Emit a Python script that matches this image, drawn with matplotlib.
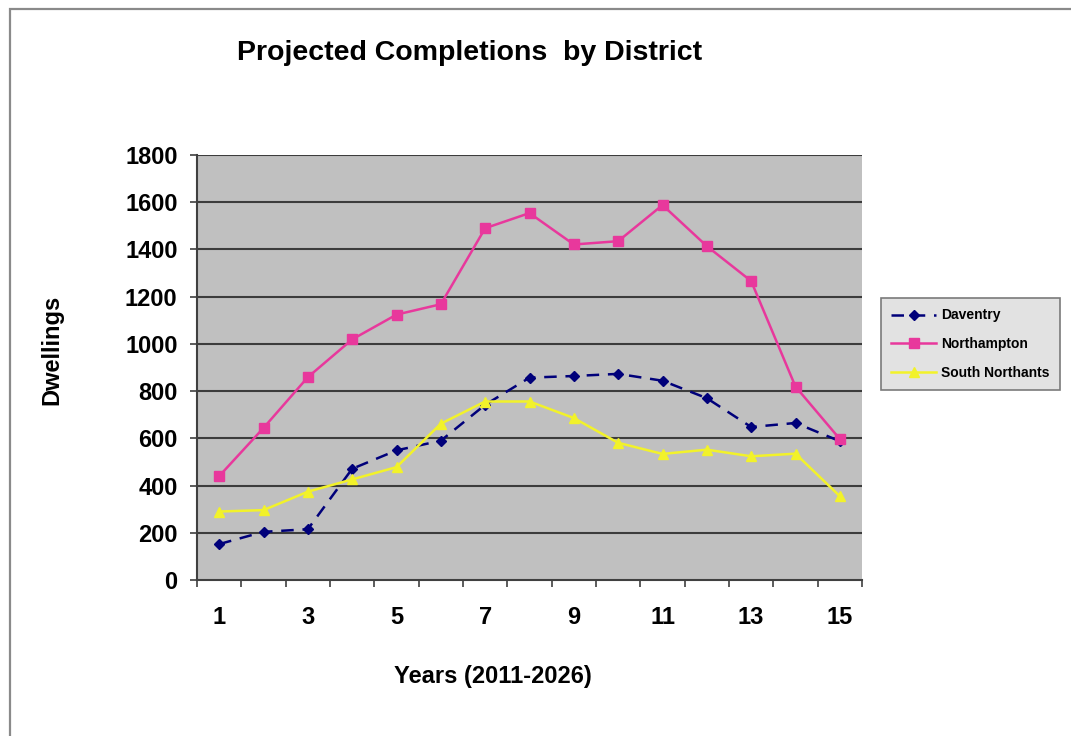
import matplotlib
matplotlib.use('Agg')
import matplotlib.pyplot as plt
from matplotlib.patches import Rectangle

plt.rcParams['font.family'] = ['Liberation Sans', 'DejaVu Sans']

years = list(range(1, 16))
daventry = [152, 204, 215, 471, 549, 590, 742, 857, 864, 873, 844, 770, 648, 665, 588]
northampton = [440, 644, 859, 1019, 1124, 1168, 1490, 1554, 1421, 1435, 1588, 1414, 1266, 819, 597]
south_northants = [290, 296, 374, 426, 478, 662, 756, 756, 686, 581, 534, 552, 524, 535, 355]
y_ticks = [0, 200, 400, 600, 800, 1000, 1200, 1400, 1600, 1800]
x_labels = ['1', '3', '5', '7', '9', '11', '13', '15']

fig = plt.figure(figsize=(10.71, 7.36), dpi=100)
fig.patch.set_facecolor('white')

# outer chart border (only top/left visible in the reference)
fig.patches.append(Rectangle((10 / 1071, -0.05), 1.2, 1 - 9 / 736 + 0.05,
                             transform=fig.transFigure, fill=False,
                             edgecolor='#8a8a8a', linewidth=1.6))

ax = fig.add_axes([197 / 1071, 1 - 580 / 736, 665 / 1071, 425 / 736])
ax.set_facecolor('#c0c0c0')

for y in y_ticks[1:]:
    ax.axhline(y, color='#3c3c3c', linewidth=1.5, zorder=1)

ax.plot(years, daventry, color='#00007a', linewidth=1.8, dashes=(5, 3.5),
        marker='D', markersize=5, label='Daventry', zorder=3)
ax.plot(years, northampton, color='#e8389c', linewidth=1.8,
        marker='s', markersize=6.5, label='Northampton', zorder=3)
ax.plot(years, south_northants, color='#f2f22a', linewidth=1.8,
        marker='^', markersize=7, label='South Northants', zorder=3)

ax.set_xlim(0.5, 15.5)
ax.set_ylim(0, 1800)
ax.set_yticks(y_ticks)
ax.set_yticklabels([str(v) for v in y_ticks], fontsize=17, fontweight='bold')
ax.set_xticks(years[::2])
ax.set_xticklabels(x_labels, fontsize=17, fontweight='bold')
ax.set_xticks([i + 0.5 for i in range(0, 16)], minor=True)
ax.tick_params(axis='x', which='major', length=0, pad=19)
ax.tick_params(axis='x', which='minor', length=5, width=1.2, color='#404040', direction='out')
ax.tick_params(axis='y', length=5, width=1.2, color='#404040', pad=9)

for side in ['top', 'right']:
    ax.spines[side].set_visible(False)
for side in ['left', 'bottom']:
    ax.spines[side].set_color('#404040')
    ax.spines[side].set_linewidth(1.5)

fig.text(470 / 1071, 1 - 53 / 736, 'Projected Completions  by District',
         ha='center', va='center', fontsize=20.5, fontweight='bold')
fig.text(493 / 1071, 1 - 676 / 736, 'Years (2011-2026)',
         ha='center', va='center', fontsize=17, fontweight='bold')
fig.text(52 / 1071, 1 - 350 / 736, 'Dwellings', rotation=90,
         ha='center', va='center', fontsize=17, fontweight='bold')

leg = fig.legend(loc='upper left', bbox_to_anchor=(881 / 1071, 1 - 298 / 736),
                 prop={'size': 10, 'weight': 'bold'}, handlelength=3.2,
                 labelspacing=1.05, borderpad=0.75, handletextpad=0.35,
                 fancybox=False, framealpha=1, borderaxespad=0)
leg.get_frame().set_facecolor('#e2e2e2')
leg.get_frame().set_edgecolor('#7a7a7a')
leg.get_frame().set_linewidth(1.2)

fig.savefig('out.png', dpi=100)
